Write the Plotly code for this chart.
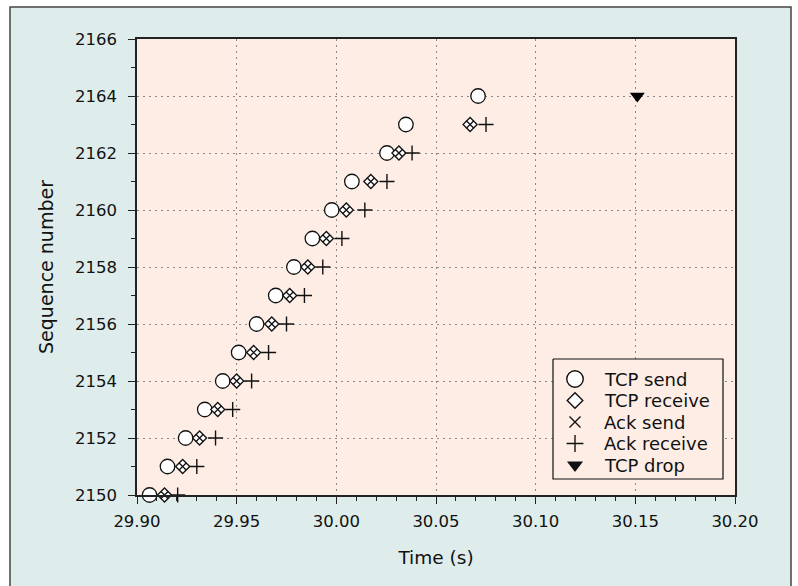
import plotly.graph_objects as go

# Data
seq_send = [2150, 2151, 2152, 2153, 2154, 2155, 2156, 2157, 2158, 2159, 2160, 2161, 2162, 2163, 2164]
t_send = [29.9063, 29.9153, 29.9244, 29.9340, 29.9430, 29.9510, 29.9600, 29.9696, 29.9787,
          29.9880, 29.9977, 30.0078, 30.0254, 30.0349, 30.0711]

seq_recv = [2150, 2151, 2152, 2153, 2154, 2155, 2156, 2157, 2158, 2159, 2160, 2161, 2162, 2163]
t_recv = [29.9138, 29.9229, 29.9314, 29.9405, 29.9500, 29.9585, 29.9676, 29.9766, 29.9857,
          29.9950, 30.0050, 30.0173, 30.0314, 30.0671]

seq_ack_send = seq_recv
t_ack_send = t_recv

seq_ack_recv = [2150, 2151, 2152, 2153, 2154, 2155, 2156, 2157, 2158, 2159, 2160, 2161, 2162, 2163]
t_ack_recv = [29.9204, 29.9300, 29.9394, 29.9480, 29.9575, 29.9660, 29.9750, 29.9840, 29.9932,
              30.0028, 30.0143, 30.0254, 30.0380, 30.0751]

seq_drop = [2164]
t_drop = [30.151]

x_ticks = [29.90, 29.95, 30.00, 30.05, 30.10, 30.15, 30.20]
y_ticks = [2150, 2152, 2154, 2156, 2158, 2160, 2162, 2164, 2166]

legend_names = ["TCP send", "TCP receive", "Ack send", "Ack receive", "TCP drop"]
legend_symbols = ["circle", "diamond", "x-thin-open", "cross-thin-open", "triangle-down"]
legend_sizes = [16.5, 12, 11, 12, 14]

FONT = "DejaVu Sans"
PLOT_BG = "rgb(253,237,229)"
OUT_BG = "rgb(222,237,235)"
INK = "#111111"

fig = go.Figure()
fig.add_trace(go.Scatter(x=t_send, y=seq_send, mode="markers", name="TCP send", cliponaxis=False,
                         marker=dict(symbol="circle", size=14.5, color="white", line=dict(color=INK, width=1.3))))
fig.add_trace(go.Scatter(x=t_recv, y=seq_recv, mode="markers", name="TCP receive", cliponaxis=False,
                         marker=dict(symbol="diamond", size=10.8, color="white", line=dict(color=INK, width=1.3))))
fig.add_trace(go.Scatter(x=t_ack_send, y=seq_ack_send, mode="markers", name="Ack send", cliponaxis=False,
                         marker=dict(symbol="x-thin-open", size=7.5, color=INK, line=dict(color=INK, width=1.3))))
fig.add_trace(go.Scatter(x=t_ack_recv, y=seq_ack_recv, mode="markers", name="Ack receive", cliponaxis=False,
                         marker=dict(symbol="cross-thin-open", size=10.8, color=INK, line=dict(color=INK, width=1.4))))
fig.add_trace(go.Scatter(x=t_drop, y=seq_drop, mode="markers", name="TCP drop", cliponaxis=False,
                         marker=dict(symbol="triangle-down", size=13, color="black", line=dict(width=0))))

# geometry (pixels)
L, R, T, B = 137, 63, 39, 91
W, H = 798, 586
pw, ph = W - L - R, H - T - B
def px(xp):
    return (xp - L) / pw
def py(yp):
    return (H - B - yp) / ph

# legend drawn on an overlay axis pair measured in pixels of the plot area
leg_x0, leg_x1, leg_y0, leg_y1 = 553, 723, 359, 479
leg_sym_x = 575
leg_txt_x = 602
leg_rows = [379, 400.5, 422, 443.5, 465]

# legend box (fill hides gridlines underneath)
fig.add_trace(go.Scatter(
    x=[leg_x0, leg_x1, leg_x1, leg_x0, leg_x0], y=[leg_y0, leg_y0, leg_y1, leg_y1, leg_y0],
    xaxis="x2", yaxis="y2", mode="lines", fill="toself", fillcolor=PLOT_BG,
    line=dict(color="#111111", width=1.2), showlegend=False, hoverinfo="skip", cliponaxis=False))

for name, sym, size, yrow in zip(legend_names, legend_symbols, legend_sizes, leg_rows):
    filled = sym in ("circle", "diamond")
    fig.add_trace(go.Scatter(
        x=[leg_sym_x], y=[yrow], xaxis="x2", yaxis="y2", mode="markers", showlegend=False,
        hoverinfo="skip", cliponaxis=False,
        marker=dict(symbol=sym, size=size,
                    color="white" if filled else INK,
                    line=dict(color=INK, width=1.4 if sym != "triangle-down" else 0))))

annotations = [
    dict(x=leg_txt_x, y=yrow, xref="x2", yref="y2", text=name, showarrow=False,
         xanchor="left", yanchor="middle", font=dict(family=FONT, size=18, color=INK))
    for name, yrow in zip(legend_names, leg_rows)
]

shapes = [
    dict(type="rect", xref="paper", yref="paper", x0=px(-5), x1=px(10), y0=py(600), y1=py(-5),
         fillcolor="white", line=dict(width=0), layer="below"),
    dict(type="rect", xref="paper", yref="paper", x0=px(791), x1=px(805), y0=py(600), y1=py(-5),
         fillcolor="white", line=dict(width=0), layer="below"),
    dict(type="rect", xref="paper", yref="paper", x0=px(-5), x1=px(805), y0=py(7), y1=py(-5),
         fillcolor="white", line=dict(width=0), layer="below"),
    dict(type="rect", xref="paper", yref="paper", x0=px(10), x1=px(791), y0=py(600), y1=py(7),
         fillcolor="rgba(0,0,0,0)", line=dict(color="#444444", width=1.5), layer="above"),
]

axis_common = dict(
    showline=True, mirror=True, linecolor="#222222", linewidth=1.5,
    ticks="outside", ticklen=7, tickwidth=1.2, tickcolor="#222222",
    showgrid=True, gridcolor="#8a8a8a", gridwidth=1, griddash="2px,4px",
    zeroline=False,
    tickfont=dict(family=FONT, size=16.5, color=INK),
)

fig.update_layout(
    width=W, height=H,
    margin=dict(l=L, r=R, t=T, b=B),
    paper_bgcolor=OUT_BG,
    plot_bgcolor=PLOT_BG,
    font=dict(family=FONT, size=16, color=INK),
    showlegend=False,
    shapes=shapes,
    annotations=annotations,
    xaxis=dict(range=[29.9, 30.2], tickvals=x_ticks, tickformat=".2f", ticklabelstandoff=3,
               title=dict(text="Time (s)", font=dict(family=FONT, size=18.5, color=INK), standoff=22),
               minor=dict(dtick=0.01, ticks="outside", ticklen=4, tickwidth=1.2, tickcolor="#222222", showgrid=False),
               **axis_common),
    yaxis=dict(range=[2150, 2166], tickvals=y_ticks, ticklabelstandoff=8,
               title=dict(text="Sequence number", font=dict(family=FONT, size=19, color=INK), standoff=16),
               minor=dict(dtick=1, ticks="outside", ticklen=4, tickwidth=1.2, tickcolor="#222222", showgrid=False),
               **axis_common),
    xaxis2=dict(overlaying="x", range=[L, W - R], visible=False, showgrid=False, zeroline=False,
                fixedrange=True),
    yaxis2=dict(overlaying="y", range=[H - B, T], visible=False, showgrid=False, zeroline=False,
                fixedrange=True),
)

fig.write_html("out.html")
